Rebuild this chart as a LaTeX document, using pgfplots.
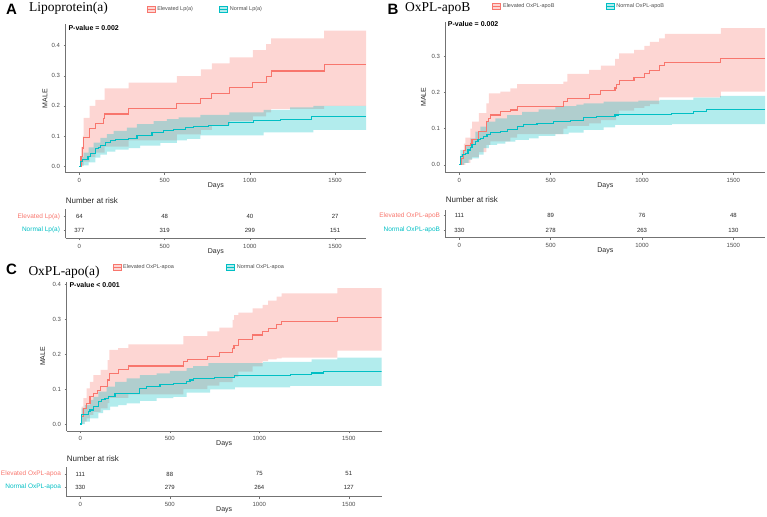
\documentclass[border=0pt]{standalone}
\usepackage{pgfplots}
\pgfplotsset{compat=1.18}
\usepgfplotslibrary{fillbetween}
\usepackage{fontspec}
\setmainfont{Liberation Sans}
\newfontfamily\serifft{Liberation Serif}
\definecolor{redc}{HTML}{F8766D}
\definecolor{cyanc}{HTML}{00BFC4}
\definecolor{axgray}{HTML}{4D4D4D}
\newcommand{\fs}[1]{\fontsize{#1}{#1}\selectfont}
\pgfplotsset{
  base/.style={
    scale only axis,
    axis x line*=bottom, axis y line*=left,
    axis line style={draw=black!55, line width=0.7pt},
    tick align=outside, major tick length=2.2pt,
    tick style={draw=black!55, line width=0.5pt},
    xtick={0,500,1000,1500},
    xticklabel style={/pgf/number format/1000 sep={}},
    ticklabel style={font=\fs{6}, text=axgray},
    /pgf/number format/assume math mode=true,
    xlabel={Days},
    xlabel style={font=\fs{7}, text=black!85, at={(axis description cs:0.5,0)}, anchor=center, yshift=-13.3pt},
    ylabel style={font=\fs{7}, text=black!85, anchor=center},
  },
  km/.style={base, ylabel={MALE},
    ytick={0,0.1,0.2,0.3,0.4},
    yticklabel style={/pgf/number format/fixed, /pgf/number format/fixed zerofill, /pgf/number format/precision=1},
    legend style={draw=none, fill=none, legend columns=2, font=\fs{5.5}, text=axgray, inner sep=0pt, anchor=west},
    legend cell align=left,
  },
  risk/.style={base, ytick={1,2},
    yticklabel style={font=\fs{6.5}},
    title={Number at risk},
    every axis title/.style={font=\fs{8}, text=black!85, at={(axis description cs:0,1)}, anchor=west, inner sep=0pt, yshift=8.3pt},
    every node near coord/.append style={font=\fs{6}, text=black!85, anchor=center},
  },
  bandr/.style={fill=redc, fill opacity=0.3, draw=none, forget plot},
  bandc/.style={fill=cyanc, fill opacity=0.3, draw=none, forget plot},
  linr/.style={redc, line width=1.1pt, const plot, forget plot},
  linc/.style={cyanc, line width=1.1pt, const plot, forget plot},
  pth/.style={draw=none, const plot, forget plot},
  legr/.style={legend image code/.code={\fill[redc, fill opacity=0.3] (0pt,-3pt) rectangle (8pt,3pt); \draw[redc, line width=0.9pt] (0pt,0pt) -- (8pt,0pt);}},
  legc/.style={legend image code/.code={\fill[cyanc, fill opacity=0.3] (0pt,-3pt) rectangle (8pt,3pt); \draw[cyanc, line width=0.9pt] (0pt,0pt) -- (8pt,0pt);}},
}
\begin{document}
\begin{tikzpicture}[x=1pt,y=1pt]

% ---------------- Panel A ----------------
\node[anchor=base west, font=\bfseries\fs{15}, inner sep=0] at (6,501) {A};
\node[anchor=base west, font=\serifft\fs{13.5}, inner sep=0] at (29,504.3) {Lipoprotein(a)};
\begin{axis}[km, at={(65.7pt,343.3pt)}, anchor=south west, width=300.3pt, height=148.4pt,
  xmin=-80, xmax=1681, ymin=-0.022, ymax=0.471,
  ylabel style={at={(axis description cs:-0.069,0.5)}},
  legend style={at={(axis description cs:0.268,1.0997)}, /tikz/every even column/.append style={column sep=24pt}}]
\addlegendimage{legr}\addlegendentry{Elevated Lp(a)}
\addlegendimage{legc}\addlegendentry{Normal Lp(a)}
\addplot[pth, name path=Aru] coordinates {(0,0) (10,0.064) (20,0.1) (25,0.16) (61,0.2) (94,0.22) (148,0.258) (289,0.277) (572,0.299) (713,0.321) (777,0.341) (881,0.361) (1017,0.385) (1095,0.405) (1125,0.424) (1435,0.45) (1681,0.45)};
\addplot[pth, name path=Arl] coordinates {(0,0) (10,0.003) (25,0.015) (61,0.03) (94,0.045) (148,0.065) (289,0.085) (572,0.105) (713,0.12) (777,0.135) (881,0.15) (1017,0.165) (1095,0.178) (1125,0.19) (1435,0.2) (1681,0.2)};
\addplot[pth, name path=Acu] coordinates {(0,0) (6,0.03) (25,0.045) (55,0.062) (84,0.078) (123,0.094) (162,0.106) (201,0.117) (279,0.128) (338,0.139) (436,0.149) (514,0.156) (582,0.162) (709,0.17) (880,0.178) (1080,0.187) (1236,0.195) (1373,0.2) (1681,0.2)};
\addplot[pth, name path=Acl] coordinates {(0,0) (25,0.002) (55,0.012) (94,0.028) (123,0.038) (162,0.048) (211,0.055) (289,0.06) (357,0.068) (475,0.077) (572,0.085) (631,0.09) (709,0.102) (1080,0.112) (1373,0.12) (1681,0.124)};
\addplot[bandr] fill between[of=Aru and Arl];
\addplot[bandc] fill between[of=Acu and Acl];
\addplot[linr] coordinates {(0,0) (10,0.031) (20,0.06) (25,0.095) (61,0.125) (94,0.142) (143,0.158) (148,0.173) (289,0.19) (572,0.208) (713,0.225) (777,0.241) (881,0.261) (1017,0.278) (1095,0.297) (1125,0.316) (1435,0.338) (1681,0.338)};
\addplot[linc] coordinates {(0,0) (6,0.014) (16,0.022) (51,0.033) (64,0.042) (94,0.057) (113,0.063) (123,0.068) (152,0.078) (182,0.084) (211,0.088) (289,0.092) (338,0.102) (426,0.113) (494,0.118) (553,0.122) (621,0.128) (670,0.131) (757,0.136) (875,0.145) (1021,0.15) (1177,0.156) (1363,0.164) (1681,0.164)};
\node[anchor=west, font=\bfseries\fs{7}, inner sep=0] at (rel axis cs:0,1) [xshift=2.6pt, yshift=-4pt] {P-value = 0.002};
\end{axis}
\begin{axis}[risk, at={(65.7pt,277.7pt)}, anchor=south west, width=300.3pt, height=29.3pt,
  xmin=-80, xmax=1681, ymin=0.376, ymax=2.579,
  yticklabels={\textcolor{cyanc}{Normal Lp(a)}, \textcolor{redc}{Elevated Lp(a)}}]
\addplot[draw=none, mark=none, nodes near coords, point meta=explicit symbolic] table[meta=n] {
x y n
0 2 64
500 2 48
1000 2 40
1500 2 27
0 1 377
500 1 319
1000 1 299
1500 1 151
};
\end{axis}

% ---------------- Panel B ----------------
\node[anchor=base west, font=\bfseries\fs{15}, inner sep=0] at (387.3,501) {B};
\node[anchor=base west, font=\serifft\fs{13.5}, inner sep=0] at (405,504) {OxPL-apoB};
\begin{axis}[km, at={(445.7pt,343.3pt)}, anchor=south west, width=319.3pt, height=151pt,
  xmin=-75, xmax=1673, ymin=-0.022, ymax=0.397,
  ytick={0,0.1,0.2,0.3},
  ylabel style={at={(axis description cs:-0.070,0.5)}},
  legend style={at={(axis description cs:0.145,1.104)}, /tikz/every even column/.append style={column sep=49pt}}]
\addlegendimage{legr}\addlegendentry{Elevated OxPL-apoB}
\addlegendimage{legc}\addlegendentry{Normal OxPL-apoB}
\addplot[pth, name path=Bru] coordinates {(0,0) (9,0.03) (24,0.059) (33,0.075) (60,0.1) (69,0.12) (106,0.143) (148,0.17) (161,0.198) (224,0.203) (279,0.212) (316,0.224) (569,0.231) (591,0.252) (710,0.263) (774,0.275) (852,0.294) (875,0.309) (956,0.319) (1012,0.33) (1043,0.341) (1094,0.351) (1125,0.363) (1431,0.379) (1673,0.379)};
\addplot[pth, name path=Brl] coordinates {(0,0) (33,0.005) (60,0.014) (69,0.022) (106,0.035) (148,0.055) (170,0.065) (279,0.075) (316,0.085) (569,0.1) (591,0.108) (710,0.115) (774,0.124) (858,0.138) (875,0.15) (956,0.158) (1012,0.163) (1043,0.168) (1094,0.187) (1431,0.203) (1673,0.203)};
\addplot[pth, name path=Bcu] coordinates {(0,0) (5,0.041) (33,0.055) (60,0.073) (88,0.092) (115,0.106) (151,0.12) (197,0.129) (261,0.138) (343,0.147) (434,0.154) (525,0.161) (569,0.163) (640,0.167) (680,0.17) (790,0.175) (980,0.178) (1098,0.18) (1281,0.186) (1427,0.191) (1673,0.191)};
\addplot[pth, name path=Bcl] coordinates {(0,0) (24,0.005) (51,0.014) (69,0.018) (106,0.028) (133,0.046) (161,0.055) (206,0.059) (252,0.064) (307,0.069) (380,0.073) (434,0.08) (525,0.085) (598,0.089) (680,0.097) (790,0.104) (852,0.111) (1163,0.113) (1673,0.113)};
\addplot[bandr] fill between[of=Bru and Brl];
\addplot[bandc] fill between[of=Bcu and Bcl];
\addplot[linr] coordinates {(0,0) (9,0.018) (24,0.039) (33,0.053) (60,0.059) (69,0.069) (106,0.092) (148,0.12) (161,0.129) (170,0.138) (224,0.147) (279,0.152) (316,0.161) (569,0.175) (591,0.183) (710,0.194) (774,0.205) (852,0.213) (858,0.222) (875,0.233) (956,0.243) (1012,0.252) (1043,0.262) (1094,0.275) (1125,0.284) (1431,0.295) (1673,0.295)};
\addplot[linc] coordinates {(0,0) (5,0.023) (15,0.029) (33,0.032) (47,0.041) (60,0.048) (69,0.055) (88,0.064) (102,0.069) (115,0.073) (133,0.078) (151,0.083) (170,0.089) (224,0.092) (261,0.099) (316,0.106) (352,0.111) (425,0.115) (516,0.12) (606,0.124) (680,0.13) (752,0.133) (852,0.138) (870,0.14) (1163,0.143) (1281,0.147) (1354,0.154) (1673,0.154)};
\node[anchor=west, font=\bfseries\fs{7}, inner sep=0] at (rel axis cs:0,1) [xshift=2pt, yshift=-2.6pt] {P-value = 0.002};
\end{axis}
\begin{axis}[risk, at={(445.7pt,278.3pt)}, anchor=south west, width=319.3pt, height=27.7pt,
  xmin=-75, xmax=1673, ymin=0.462, ymax=2.4,
  title style={yshift=1.7pt},
  yticklabels={\textcolor{cyanc}{Normal OxPL-apoB}, \textcolor{redc}{Elevated OxPL-apoB}}]
\addplot[draw=none, mark=none, nodes near coords, point meta=explicit symbolic] table[meta=n] {
x y n
0 2 111
500 2 89
1000 2 76
1500 2 48
0 1 330
500 1 278
1000 1 263
1500 1 130
};
\end{axis}

% ---------------- Panel C ----------------
\node[anchor=base west, font=\bfseries\fs{15}, inner sep=0] at (6,241.7) {C};
\node[anchor=base west, font=\serifft\fs{13.5}, inner sep=0] at (28.3,240.3) {OxPL-apo(a)};
\begin{axis}[km, at={(66.7pt,85pt)}, anchor=south west, width=315pt, height=149.3pt,
  xmin=-76, xmax=1684, ymin=-0.02, ymax=0.4075,
  ylabel style={at={(axis description cs:-0.076,0.5)}},
  legend style={at={(axis description cs:0.144,1.094)}, /tikz/every even column/.append style={column sep=50pt}}]
\addlegendimage{legr}\addlegendentry{Elevated OxPL-apoa}
\addlegendimage{legc}\addlegendentry{Normal OxPL-apoa}
\addplot[pth, name path=Cru] coordinates {(0,0) (7,0.05) (17,0.074) (35,0.102) (54,0.121) (73,0.14) (114,0.155) (153,0.183) (162,0.212) (212,0.217) (268,0.228) (576,0.252) (710,0.265) (777,0.276) (851,0.298) (859,0.312) (883,0.319) (963,0.331) (1019,0.341) (1050,0.353) (1097,0.365) (1125,0.374) (1436,0.389) (1684,0.389)};
\addplot[pth, name path=Crl] coordinates {(0,0) (17,0.007) (35,0.016) (54,0.026) (73,0.035) (114,0.045) (153,0.06) (162,0.075) (268,0.085) (576,0.1) (710,0.11) (777,0.12) (851,0.135) (883,0.15) (963,0.165) (1019,0.18) (1050,0.185) (1097,0.188) (1125,0.19) (1436,0.21) (1684,0.21)};
\addplot[pth, name path=Ccu] coordinates {(0,0) (7,0.045) (26,0.054) (54,0.069) (73,0.078) (101,0.093) (147,0.107) (194,0.121) (259,0.131) (333,0.14) (426,0.145) (501,0.152) (594,0.16) (631,0.166) (715,0.174) (1022,0.178) (1293,0.185) (1436,0.19) (1684,0.19)};
\addplot[pth, name path=Ccl] coordinates {(0,0) (26,0.007) (54,0.016) (101,0.031) (128,0.04) (166,0.05) (212,0.054) (259,0.059) (333,0.066) (426,0.074) (520,0.078) (594,0.09) (725,0.099) (864,0.105) (1172,0.109) (1684,0.109)};
\addplot[bandr] fill between[of=Cru and Crl];
\addplot[bandc] fill between[of=Ccu and Ccl];
\addplot[linr] coordinates {(0,0) (7,0.021) (17,0.031) (20,0.045) (35,0.059) (54,0.078) (73,0.088) (94,0.097) (114,0.107) (153,0.126) (162,0.145) (212,0.155) (268,0.166) (576,0.179) (598,0.185) (710,0.193) (777,0.204) (851,0.217) (859,0.226) (883,0.243) (963,0.255) (1019,0.265) (1050,0.274) (1097,0.284) (1125,0.293) (1436,0.305) (1684,0.305)};
\addplot[linc] coordinates {(0,0) (7,0.026) (45,0.035) (54,0.04) (73,0.05) (101,0.064) (119,0.069) (138,0.074) (156,0.078) (194,0.088) (333,0.102) (371,0.107) (445,0.114) (520,0.117) (594,0.121) (613,0.126) (631,0.131) (752,0.134) (864,0.138) (1172,0.142) (1293,0.146) (1358,0.151) (1684,0.151)};
\node[anchor=west, font=\bfseries\fs{7}, inner sep=0] at (rel axis cs:0,1) [xshift=2.6pt, yshift=-3.3pt] {P-value < 0.001};
\end{axis}
\begin{axis}[risk, at={(66.7pt,19.3pt)}, anchor=south west, width=315pt, height=29.4pt,
  xmin=-76, xmax=1684, ymin=0.293, ymax=2.5,
  title style={yshift=0.7pt},
  yticklabels={\textcolor{cyanc}{Normal OxPL-apoa}, \textcolor{redc}{Elevated OxPL-apoa}}]
\addplot[draw=none, mark=none, nodes near coords, point meta=explicit symbolic] table[meta=n] {
x y n
0 2 111
500 2 88
1000 2 75
1500 2 51
0 1 330
500 1 279
1000 1 264
1500 1 127
};
\end{axis}
\pgfresetboundingbox
\path[use as bounding box] (0,0) rectangle (767,516);
\end{tikzpicture}
\end{document}
